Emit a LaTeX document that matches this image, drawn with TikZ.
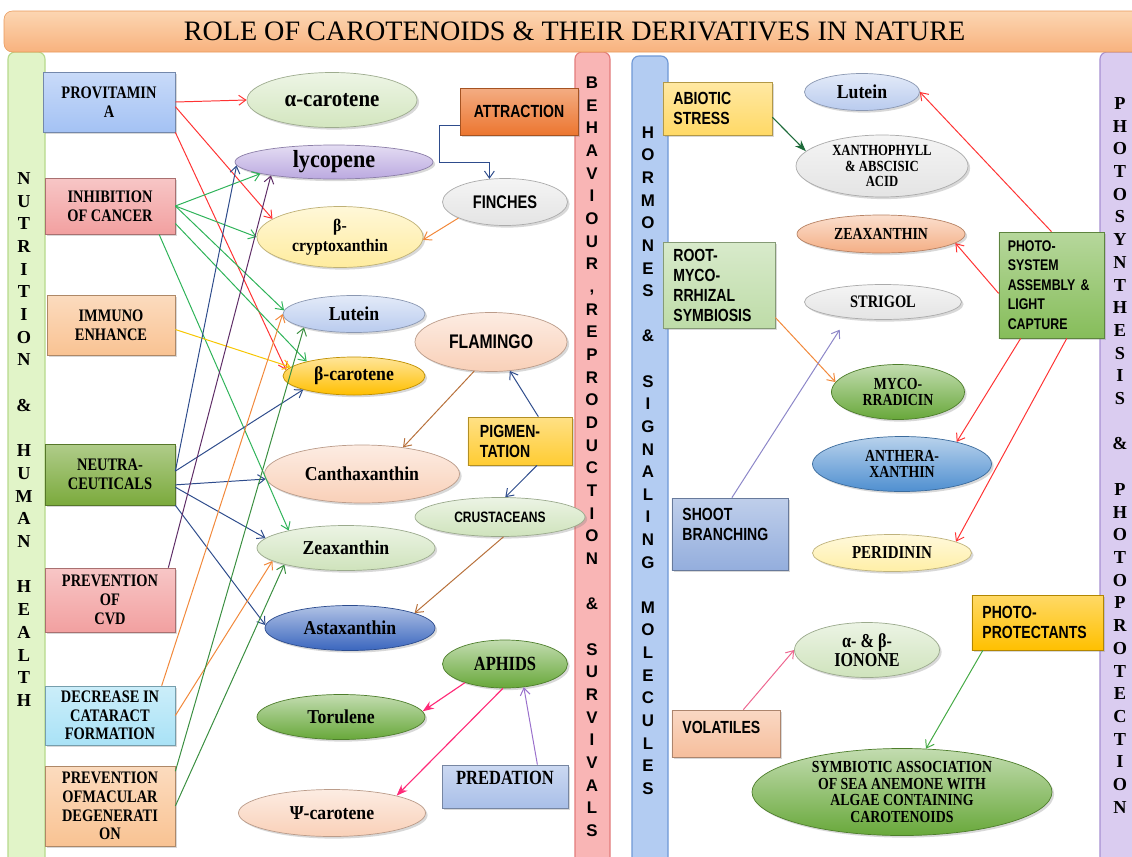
\documentclass[tikz,border=0pt]{standalone}
\usepackage{fontspec}
\setmainfont{Liberation Serif}
\newfontfamily\boxfont{Liberation Serif}[FakeStretch=0.82]
\newfontfamily\ellfont{Liberation Serif}[FakeStretch=0.9]
\newfontfamily\labsans{Liberation Sans}[FakeStretch=0.8]
\newfontfamily\barsans{Liberation Sans}
\usepackage{tikz}
\usetikzlibrary{shapes.geometric,arrows.meta,shadows,calc}

% fills
\definecolor{provC}{HTML}{A4C2F4}
\definecolor{redC}{HTML}{F2A0A0}
\definecolor{peachC}{HTML}{F9C393}
\definecolor{neutraC}{HTML}{7BAA3C}
\definecolor{cyanC}{HTML}{A9E2F6}
\definecolor{acarC}{HTML}{D3E6BF}
\definecolor{lycoC}{HTML}{BBA9E0}
\definecolor{bcryC}{HTML}{FFEC9E}
\definecolor{lutC}{HTML}{B9CBEE}
\definecolor{bcarC}{HTML}{FFBF00}
\definecolor{salmC}{HTML}{F9D0B8}
\definecolor{paleG}{HTML}{CFE3BC}
\definecolor{astaC}{HTML}{3A66BE}
\definecolor{grnC}{HTML}{68A83A}
\definecolor{greyC}{HTML}{E4E4E4}
\definecolor{attrC}{HTML}{EC7630}
\definecolor{pigmC}{HTML}{FFCC33}
\definecolor{predC}{HTML}{A9BFE8}
\definecolor{abioC}{HTML}{FFD966}
\definecolor{zeaC}{HTML}{F4AE84}
\definecolor{rootC}{HTML}{BEDCA8}
\definecolor{psysC}{HTML}{86BD5A}
\definecolor{anthC}{HTML}{4F8FD0}
\definecolor{periC}{HTML}{FFEFA6}
\definecolor{ppC}{HTML}{FFC000}
\definecolor{volaC}{HTML}{F6BE9C}
\definecolor{shootC}{HTML}{94AEDD}
% bars
\definecolor{barG}{HTML}{E1F4C8}
\definecolor{barGd}{HTML}{B6D98C}
\definecolor{barP}{HTML}{F9B5B5}
\definecolor{barPd}{HTML}{E27C7C}
\definecolor{barB}{HTML}{B3CCF2}
\definecolor{barBd}{HTML}{6F98D6}
\definecolor{barV}{HTML}{DACCF0}
\definecolor{barVd}{HTML}{A68FD2}
\definecolor{titleT}{HTML}{FCD6B2}
\definecolor{titleB}{HTML}{F8B27E}
\definecolor{titleD}{HTML}{E99A5C}
% arrows
\definecolor{redA}{HTML}{FF3333}
\definecolor{greenA}{HTML}{2EB358}
\definecolor{yellowA}{HTML}{F7C600}
\definecolor{navyA}{HTML}{2E4C8C}
\definecolor{plumA}{HTML}{5E2C66}
\definecolor{orangeA}{HTML}{F2883A}
\definecolor{dgreenA}{HTML}{3A8F40}
\definecolor{brownA}{HTML}{B8703A}
\definecolor{pinkA}{HTML}{FF2A78}
\definecolor{violetA}{HTML}{9A70CC}
\definecolor{forestA}{HTML}{1D6B3A}
\definecolor{lilacA}{HTML}{8C86C8}
\definecolor{roseA}{HTML}{EE6690}
\definecolor{leafA}{HTML}{44AA44}

\tikzset{sz/.style 2 args={minimum width=#1*0.025cm, minimum height=#2*0.025cm}}
\tikzset{shadowed/.style={drop shadow={shadow xshift=1.5pt, shadow yshift=-1.5pt, opacity=0.3}}}
\tikzset{box/.style={rectangle, draw=#1!70!black, top color=#1!60!white, bottom color=#1,
    line width=0.5pt, inner sep=0pt, align=center, shadowed,
    font=\boxfont\bfseries\fontsize{12.5}{13.3}\selectfont}}
\tikzset{lbox/.style={box=#1, align=left, inner xsep=0.26cm,
    font=\labsans\bfseries\fontsize{12.5}{14.2}\selectfont}}
\tikzset{oval/.style={ellipse, draw=#1!75!black, top color=#1!40!white, bottom color=#1,
    line width=0.5pt, inner sep=0pt, align=center, shadowed,
    font=\ellfont\bfseries\fontsize{14}{14}\selectfont}}
\tikzset{caps/.style={font=\boxfont\bfseries\fontsize{#1}{11.6}\selectfont}}
\tikzset{sans/.style={font=\labsans\bfseries\fontsize{#1}{14}\selectfont}}
\tikzset{arr/.style={draw=#1, line width=0.7pt, -{Straight Barb[length=5pt,width=7pt]}}}
\tikzset{solid arr/.style={draw=#1, line width=0.8pt, -{Stealth[length=8pt,width=6pt]}}}
\tikzset{vbar/.style 2 args={fill=#1, draw=#2, line width=0.8pt, rounded corners=5pt}}
\tikzset{letter/.style={text height=9pt, text depth=0pt, inner sep=0pt}}

\begin{document}
\begin{tikzpicture}[x=0.025cm, y=-0.025cm]
  \useasboundingbox (0,0) rectangle (1132,856);
  \clip (0,0) rectangle (1132,856);
  \fill[white] (0,0) rectangle (1132,856);

  % side bars
  \draw[vbar={barG}{barGd}] (8,52) rectangle (45,880);
  \draw[vbar={barP}{barPd}] (575,52) rectangle (610,880);
  \draw[vbar={barB}{barBd}] (632,56) rectangle (668,880);
  \draw[vbar={barV}{barVd}] (1100,52) rectangle (1150,880);

  % title
  \node[rectangle, rounded corners=6pt, draw=titleD, top color=titleT, bottom color=titleB,
    sz={1141}{41}, font=\fontsize{20}{20}\selectfont] (title) at (574.5,31.5)
    {ROLE OF CAROTENOIDS \& THEIR DERIVATIVES IN NATURE};

  % bar labels
  \foreach \ch [count=\i from 0] in {N,U,T,R,I,T,I,O,N,{},\&,{},H,U,M,A,N,{},H,E,A,L,T,H}
    \node[letter, font=\bfseries\fontsize{13}{13}\selectfont] (nh\i) at (24,178+\i*22.7) {\ch};
  \foreach \ch [count=\i from 0] in {B,E,H,A,V,I,O,U,R,{,},R,E,P,R,O,D,U,C,T,I,O,N,{},\&,{},S,U,R,V,I,V,A,L,S}
    \node[letter, font=\barsans\bfseries\fontsize{12}{12}\selectfont] (br\i) at (592,82+\i*22.67) {\ch};
  \foreach \ch [count=\i from 0] in {H,O,R,M,O,N,E,S,{},\&,{},S,I,G,N,A,L,I,N,G,{},M,O,L,E,C,U,L,E,S}
    \node[letter, font=\barsans\bfseries\fontsize{12}{12}\selectfont] (hs\i) at (648,132+\i*22.62) {\ch};
  \foreach \ch [count=\i from 0] in {P,H,O,T,O,S,Y,N,T,H,E,S,I,S,{},\&,{},P,H,O,T,O,P,R,O,T,E,C,T,I,O,N}
    \node[letter, font=\bfseries\fontsize{13}{13}\selectfont] (pp\i) at (1120,103+\i*22.71) {\ch};

  % nutrition boxes
  \node[box=provC, sz={132}{60}] (prov) at (109,102) {PROVITAMIN\\A};
  \node[box=redC, sz={130}{56}] (cancer) at (110,206) {INHIBITION\\OF CANCER};
  \node[box=peachC, sz={128}{60}] (immuno) at (111,325) {IMMUNO\\ENHANCE};
  \node[box=neutraC, sz={130}{61}] (neutra) at (110,474.5) {NEUTRA-\\CEUTICALS};
  \node[box=redC, sz={130}{64}] (cvd) at (110,600) {PREVENTION\\OF\\CVD};
  \node[box=cyanC, sz={130}{59}] (cataract) at (110,715.5) {DECREASE IN\\CATARACT\\FORMATION};
  \node[box=peachC, sz={130}{80}] (macular) at (110,806) {PREVENTION\\OFMACULAR\\DEGENERATI\\ON};

  % carotenoids
  \node[oval=acarC, sz={170}{55}, font=\ellfont\bfseries\fontsize{16.5}{16}\selectfont] (acar) at (332,100) {α-carotene};
  \node[oval=lycoC, sz={198}{34}, font=\ellfont\bfseries\fontsize{17.5}{16}\selectfont] (lyco) at (334,162) {lycopene};
  \node[oval=bcryC, sz={166}{61}, font=\ellfont\bfseries\fontsize{12.5}{14}\selectfont] (bcry) at (340,237) {β-\\cryptoxanthin};
  \node[oval=lutC, sz={142}{37}] (lut1) at (354,314) {Lutein};
  \node[oval=bcarC, sz={142}{38}] (bcar) at (354,376) {β-carotene};
  \node[oval=salmC, sz={195}{58}] (cantha) at (362,474) {Canthaxanthin};
  \node[oval=paleG, sz={178}{45}] (zea1) at (346,548) {Zeaxanthin};
  \node[oval=astaC, sz={170}{45}] (asta) at (350,628) {Astaxanthin};
  \node[oval=grnC, sz={168}{45}] (toru) at (341,717) {Torulene};
  \node[oval=salmC, sz={187}{47}] (psi) at (332,813) {Ψ-carotene};

  % behaviour
  \node[box=attrC, sz={118}{47}, sans=12.5] (attr) at (519,111.5) {ATTRACTION};
  \node[oval=greyC, sz={125}{47}, sans=13] (finch) at (505,202) {FINCHES};
  \node[oval=salmC, sz={152}{59}, sans=14] (flam) at (491,342) {FLAMINGO};
  \node[lbox=pigmC, sz={104}{48}, text width=2.0cm, inner xsep=0.3cm] (pigm) at (520,441) {PIGMEN-\\TATION};
  \node[oval=paleG, sz={170}{39}, sans=10.7] (crust) at (500,517) {CRUSTACEANS};
  \node[oval=grnC, sz={125}{48}, caps=14.3] (aphid) at (505,664) {APHIDS};
  \node[box=predC, sz={126}{43}, caps=14.3, text depth=12pt] (pred) at (505,786.5) {PREDATION};

  % hormones and photosynthesis
  \node[lbox=abioC, sz={109}{53}, text width=2.205cm] (abio) at (717.5,108.5) {ABIOTIC\\STRESS};
  \node[oval=lutC, sz={115}{37}] (lut2) at (862,92) {Lutein};
  \node[oval=greyC, sz={172}{62}, font=\boxfont\bfseries\fontsize{11}{10.8}\selectfont] (xan) at (882,166) {XANTHOPHYLL\\\& ABSCISIC\\ACID};
  \node[oval=zeaC, sz={168}{38}, caps=12] (zea2) at (881,234) {ZEAXANTHIN};
  \node[lbox=rootC, sz={112}{86}, text width=2.28cm] (root) at (719,285) {ROOT-\\MYCO-\\RRHIZAL\\SYMBIOSIS};
  \node[oval=greyC, sz={157}{35}, caps=12.5] (stri) at (883,302) {STRIGOL};
  \node[lbox=psysC, sz={105}{106}, text width=2.185cm, inner xsep=0.22cm,
    font=\labsans\bfseries\fontsize{11}{13.9}\selectfont] (psys) at (1051.5,285) {PHOTO-\\SYSTEM\\ASSEMBLY \&\\LIGHT\\CAPTURE};
  \node[oval=grnC, sz={133}{55}, caps=12] (myco) at (898,392) {MYCO-\\RRADICIN};
  \node[oval=anthC, sz={179}{55}, caps=12] (anth) at (902,464) {ANTHERA-\\XANTHIN};
  \node[oval=periC, sz={159}{37}, caps=13] (peri) at (892,553) {PERIDININ};
  \node[lbox=shootC, sz={116}{72}, text width=2.38cm] (shoot) at (730,534) {SHOOT\\BRANCHING\rule[-13.5pt]{0pt}{13.5pt}};
  \node[lbox=ppC, sz={131}{55}, text width=2.755cm] (ppro) at (1037.5,622.5) {PHOTO-\\PROTECTANTS};
  \node[oval=paleG, sz={145}{55}, font=\boxfont\bfseries\fontsize{14}{12}\selectfont] (iono) at (867,650) {α- \& β-\\IONONE};
  \node[lbox=volaC, sz={108}{47}, text width=2.18cm, text depth=9pt] (vola) at (726,733.5) {VOLATILES};
  \node[oval=grnC, sz={300}{87}, font=\boxfont\bfseries\fontsize{12}{11.9}\selectfont] (symb) at (902,792)
    {SYMBIOTIC ASSOCIATION\\OF SEA ANEMONE WITH\\ALGAE CONTAINING\\CAROTENOIDS};

  % nutrition links
  \draw[arr=redA] (prov.east) -- (acar.west);
  \draw[arr=redA] (prov.-4) -- (bcry.165);
  \draw[arr=redA] (prov.south east) -- (bcar.175);
  \draw[arr=greenA] (cancer.east) -- (lyco.189);
  \draw[arr=greenA] (cancer.east) -- (bcry.west);
  \draw[arr=greenA] (cancer.east) -- (lut1.177);
  \draw[arr=greenA] (cancer.-15) -- (bcar.163);
  \draw[arr=greenA] (cancer.-30) -- (zea1.163);
  \draw[arr=yellowA] (immuno.-4) -- (bcar.172);
  \draw[arr=navyA] (neutra.3) -- (lyco.182);
  \draw[arr=navyA] (neutra.3) -- (bcar.195);
  \draw[arr=navyA] (neutra.-9) -- (cantha.183);
  \draw[arr=navyA] (neutra.-11) -- (zea1.173);
  \draw[arr=navyA] (neutra.south east) -- (asta.178);
  \draw[arr=plumA] (cvd.29) -- (lyco.192);
  \draw[arr=orangeA] (cataract.30) -- (lut1.west);
  \draw[arr=orangeA] (cataract.east) -- (zea1.190);
  \draw[arr=dgreenA] (macular.28) -- (lut1.195);
  \draw[arr=dgreenA] (macular.east) -- (zea1.195);

  % behaviour links
  \draw[arr=navyA] (attr.193) -- ++(-20,0) |- ($(finch.124)+(0,-16)$) -- (finch.124);
  \draw[arr=orangeA] (finch.199) -- (bcry.-2);
  \draw[arr=brownA] (flam.240) -- (cantha.33);
  \draw[arr=navyA] (pigm.53) -- (flam.-57);
  \draw[arr=navyA] (pigm.-55) -- (crust.75);
  \draw[arr=brownA] (crust.-80) -- (asta.13);
  \draw[solid arr=pinkA] (aphid.205) -- (toru.4);
  \draw[solid arr=pinkA] (aphid.-95) -- (psi.15);
  \draw[arr=violetA] (pred.34) -- (aphid.-51);

  % signalling and photosynthesis links
  \draw[solid arr=forestA] (abio.-9) -- (xan.169);
  \draw[arr=orangeA] (root.-30) -- (myco.171);
  \draw[arr=lilacA, shorten >=0.35cm] (shoot.87) -- (stri.204);
  \draw[arr=redA] (psys.north) -- (lut2.east);
  \draw[arr=redA] (psys.189) -- (zea2.-7);
  \draw[arr=redA] (psys.240) -- (anth.22);
  \draw[arr=redA] (psys.-74) -- (peri.10);
  \draw[arr=leafA] (ppro.207) -- (symb.61);
  \draw[arr=roseA] (vola.54) -- (iono.west);
\end{tikzpicture}
\end{document}
